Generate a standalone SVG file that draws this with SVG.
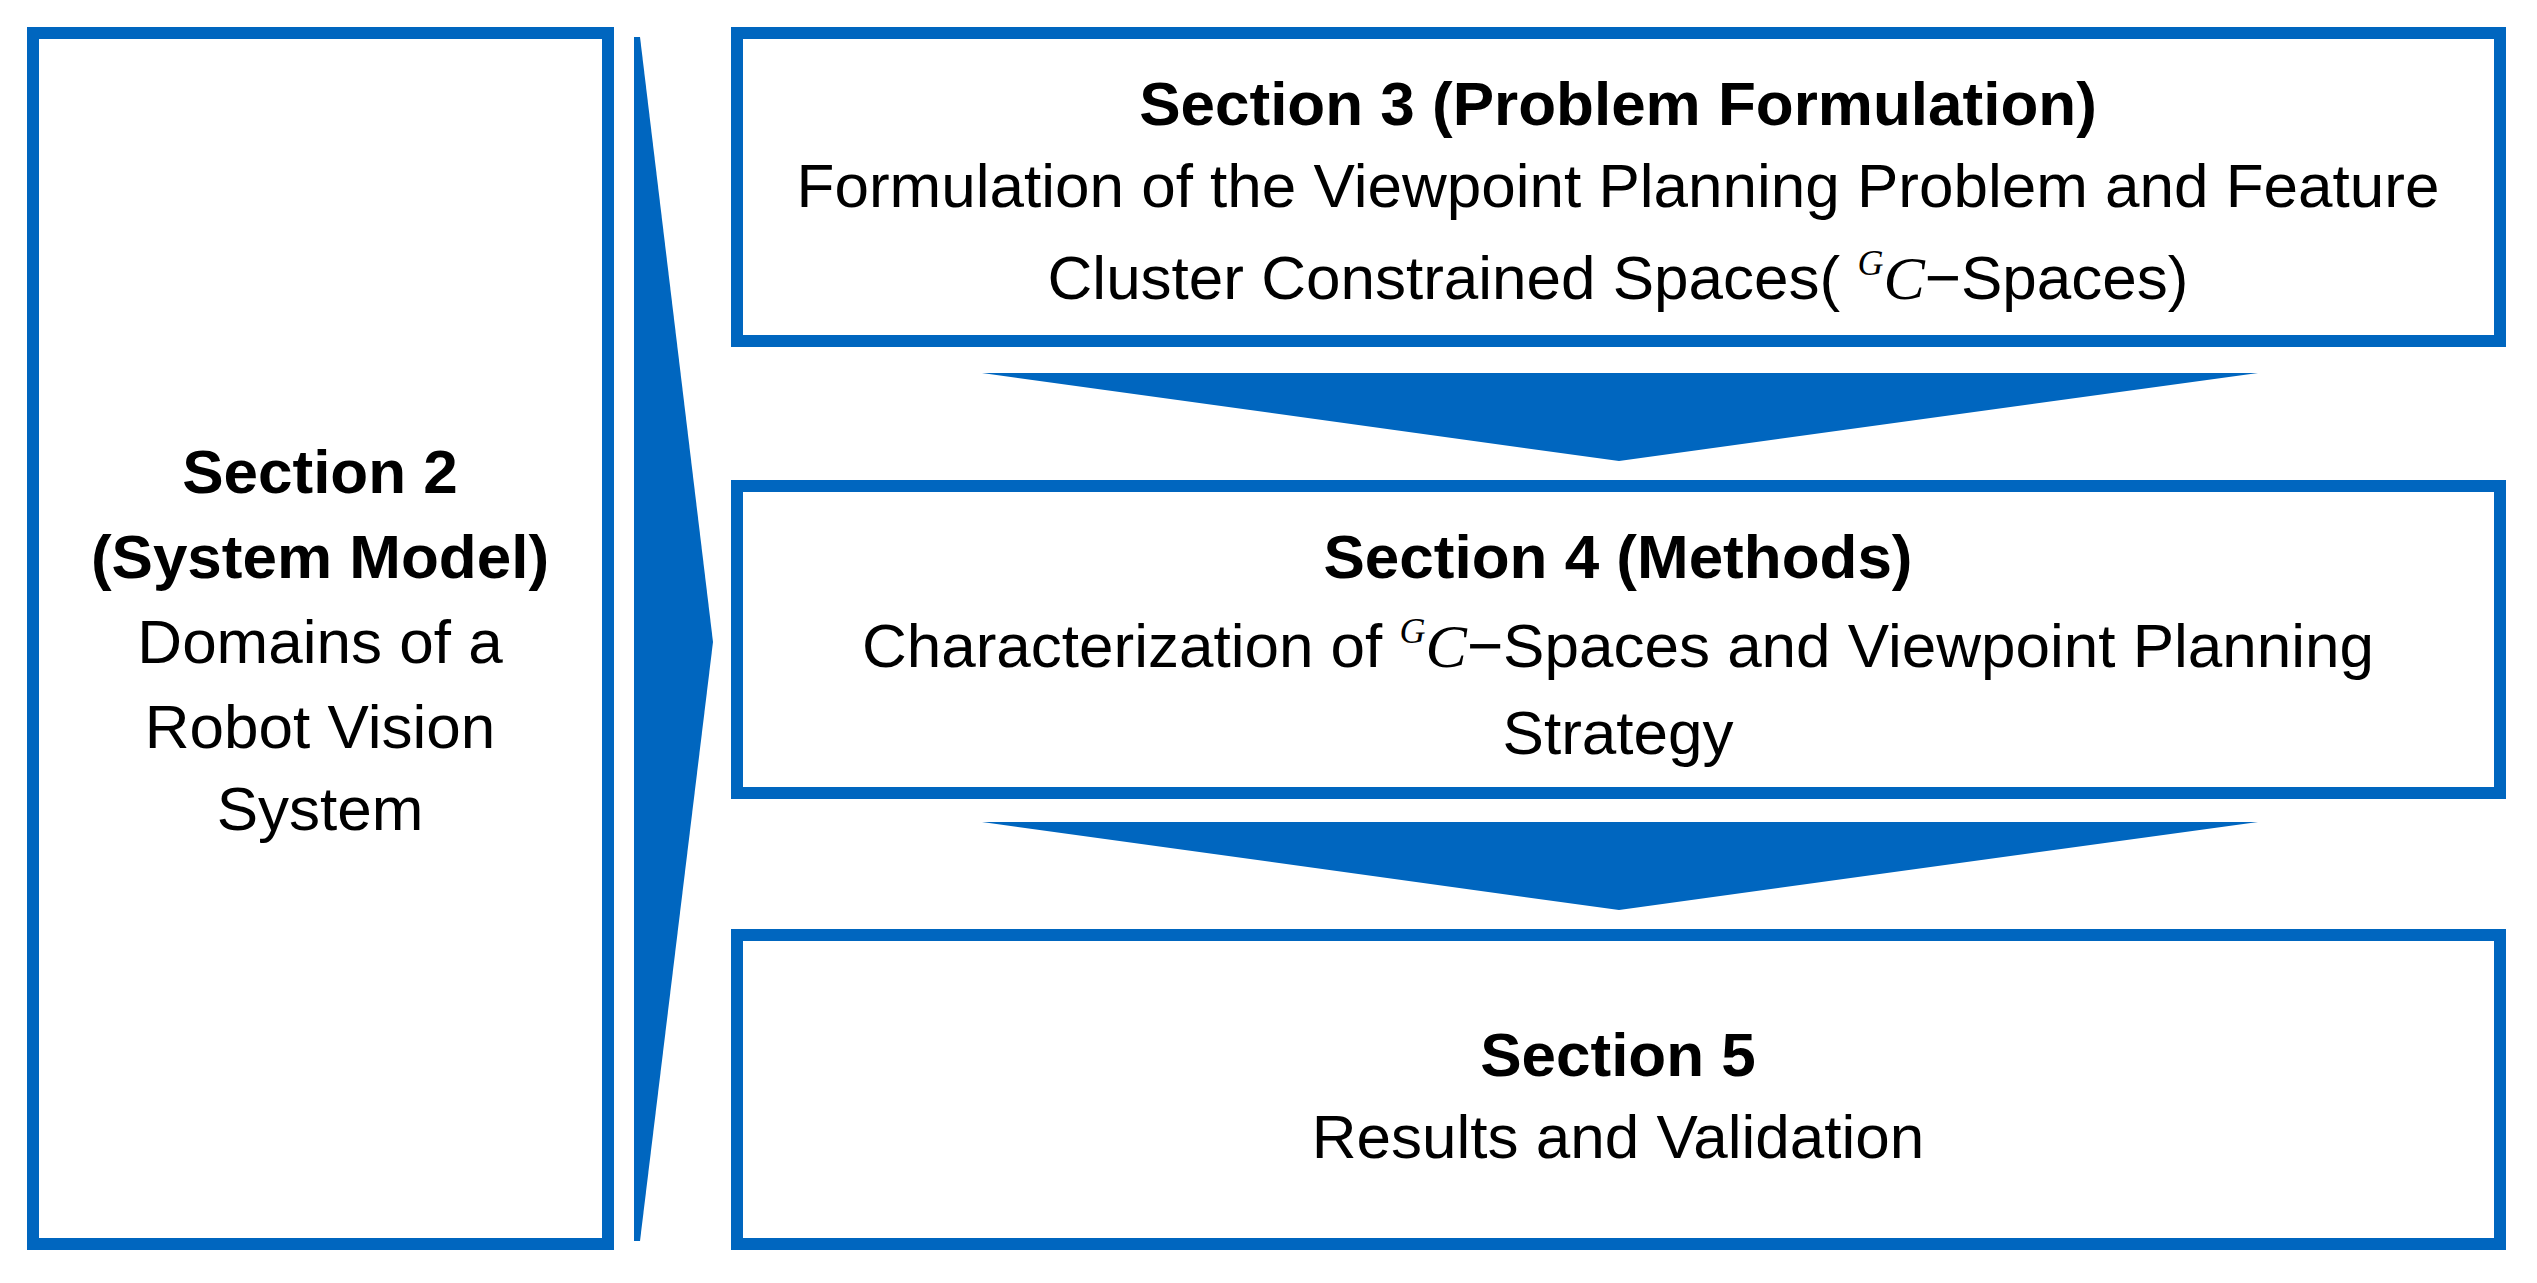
<svg xmlns="http://www.w3.org/2000/svg" width="2537" height="1283" viewBox="0 0 2537 1283">
<style>
.box{fill:#fff;stroke:#0066BF;stroke-width:12}
.arr{fill:#0066BF}
text{font-family:"Liberation Sans",Arial,sans-serif;font-size:62px;fill:#000;text-anchor:middle}
.b{font-weight:bold}
.m{font-family:"Liberation Serif",serif;font-style:italic}
</style>
<rect width="2537" height="1283" fill="#fff"/>
<g id="connectors">
<polygon class="arr" points="634,37 640,37 713,642 640,1241 634,1241"/>
<polygon class="arr" points="982,373 2258,373 1619,461"/>
<polygon class="arr" points="982,822 2258,822 1619,910"/>
</g>
<g id="section2">
<rect class="box" x="33" y="33" width="575" height="1211"/>
<text class="b" x="320" y="493">Section 2</text>
<text class="b" x="320" y="578">(System Model)</text>
<text x="320" y="663">Domains of a</text>
<text x="320" y="748">Robot Vision</text>
<text x="320" y="830">System</text>
</g>
<g id="section3">
<rect class="box" x="737" y="33" width="1763" height="308"/>
<text class="b" x="1618" y="125">Section 3 (Problem Formulation)</text>
<text x="1618" y="207">Formulation of the Viewpoint Planning Problem and Feature</text>
<text x="1618" y="299">Cluster Constrained Spaces( <tspan class="m" font-size="36" dy="-24">G</tspan><tspan class="m" dy="24">C</tspan>−Spaces)</text>
</g>
<g id="section4">
<rect class="box" x="737" y="486" width="1763" height="307"/>
<text class="b" x="1618" y="578">Section 4 (Methods)</text>
<text x="1618" y="667">Characterization of <tspan class="m" font-size="36" dy="-24">G</tspan><tspan class="m" dy="24">C</tspan>−Spaces and Viewpoint Planning</text>
<text x="1618" y="754">Strategy</text>
</g>
<g id="section5">
<rect class="box" x="737" y="935" width="1763" height="309"/>
<text class="b" x="1618" y="1076">Section 5</text>
<text x="1618" y="1158">Results and Validation</text>
</g>
</svg>
